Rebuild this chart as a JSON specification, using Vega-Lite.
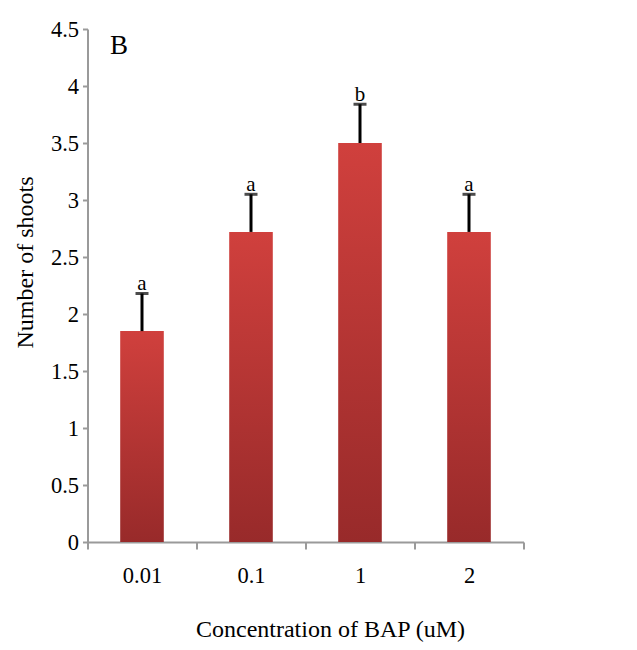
{
  "$schema": "https://vega.github.io/schema/vega-lite/v6.json",
  "autosize": {"type": "none"},
  "width": 436,
  "height": 513,
  "padding": {"left": 87.5, "top": 29, "right": 113.5, "bottom": 108},
  "background": "white",
  "config": {
    "view": {"stroke": null},
    "font": "Liberation Serif",
    "axis": {"grid": false, "labelFont": "Liberation Serif", "titleFont": "Liberation Serif", "labelFontSize": 22.5, "titleFontSize": 24, "labelColor": "black", "titleColor": "black", "titleFontWeight": "normal", "domainColor": "#9a9a9a", "tickColor": "#9a9a9a", "domainWidth": 2, "tickWidth": 2}
  },
  "data": {"values": [
    {"conc": "0.01", "shoots": 1.85, "upper": 2.18, "letter": "a"},
    {"conc": "0.1", "shoots": 2.72, "upper": 3.05, "letter": "a"},
    {"conc": "1", "shoots": 3.5, "upper": 3.84, "letter": "b"},
    {"conc": "2", "shoots": 2.72, "upper": 3.05, "letter": "a"}
  ]},
  "encoding": {
    "x": {"field": "conc", "type": "nominal", "sort": ["0.01", "0.1", "1", "2"],
      "scale": {"paddingInner": 0, "paddingOuter": 0},
      "axis": {"title": "Concentration of BAP (uM)", "labelAngle": 0, "tickBand": "extent", "tickSize": 7, "labelPadding": 15, "titleX": 242.5, "titleY": 75, "titleAnchor": "middle", "titleBaseline": "top"}}
  },
  "layer": [
    {
      "mark": {"type": "bar", "width": {"band": 0.4},
        "color": {"gradient": "linear", "x1": 0, "y1": 0, "x2": 0, "y2": 1,
          "stops": [{"offset": 0, "color": "#d0403d"}, {"offset": 1, "color": "#982a2a"}]}},
      "encoding": {
        "y": {"field": "shoots", "type": "quantitative",
          "scale": {"domain": [0, 4.5], "nice": false},
          "axis": {"title": "Number of shoots", "values": [0, 0.5, 1, 1.5, 2, 2.5, 3, 3.5, 4, 4.5], "format": "~g", "tickSize": 5, "labelPadding": 4, "titleX": -62.5, "titleY": 233, "titleAngle": -90, "titleBaseline": "middle"}}
      }
    },
    {
      "mark": {"type": "rule", "color": "black", "strokeWidth": 3},
      "encoding": {"y": {"field": "shoots", "type": "quantitative"}, "y2": {"field": "upper"}}
    },
    {
      "mark": {"type": "tick", "color": "black", "thickness": 3, "size": 13},
      "encoding": {"y": {"field": "upper", "type": "quantitative"}}
    },
    {
      "mark": {"type": "text", "font": "Liberation Serif", "fontSize": 21, "baseline": "alphabetic", "dy": -3, "color": "black"},
      "encoding": {"y": {"field": "upper", "type": "quantitative"}, "text": {"field": "letter"}}
    },
    {
      "data": {"values": [{"conc": "0.01", "y": 4.35, "panel": "B"}]},
      "mark": {"type": "text", "font": "Liberation Serif", "fontSize": 27, "baseline": "middle", "align": "center", "color": "black"},
      "encoding": {
        "x": {"field": "conc", "type": "nominal", "bandPosition": 0.29},
        "y": {"field": "y", "type": "quantitative"},
        "text": {"field": "panel"}
      }
    }
  ]
}
